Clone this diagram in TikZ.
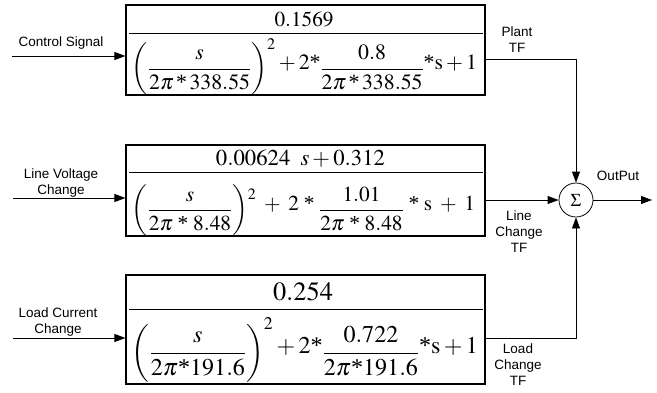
\documentclass[tikz,border=0pt]{standalone}
\usepackage{mathptmx}
\usepackage{fontspec}
\setmainfont{Liberation Serif}
\setsansfont{Liberation Sans}
\usepackage{graphicx}
\usetikzlibrary{arrows.meta, positioning}

\newcommand{\tfpart}[2]{\resizebox{#1}{!}{$\displaystyle #2$}}
\newcommand{\tmul}{\mbox{*}}
\newcommand{\tflow}[1]{\raisebox{-0.24em}{$\displaystyle #1$}}

\begin{document}
\begin{tikzpicture}[
  x=1pt, y=-1pt,
  tfbox/.style={draw, line width=1.2pt, minimum width=359pt, inner sep=0pt},
  part/.style={inner sep=0pt},
  bar/.style={line width=0.8pt},
  lbl/.style={font=\fontsize{13.5}{16}\selectfont\sffamily, align=center, inner sep=0pt},
  wire/.style={line width=0.8pt},
  arrow/.style={wire, -{Triangle[length=11pt, width=8pt]}}
]
  \useasboundingbox (0,0) rectangle (657,392);

  \node[tfbox, minimum height=90pt] (plant) at (305.5,50) {};
  \node[tfbox, minimum height=91pt] (line) at (305.5,190.5) {};
  \node[tfbox, minimum height=109pt] (load) at (305.5,329.5) {};

  \node[part, anchor=base] (plant num) at (304,26) {\tfpart{59pt}{0.1569}};
  \node[part, anchor=south, font=\fontsize{23.5}{28}\selectfont] (plant den) at (304.5,95.5)
    {\tfpart{345pt}{\tflow{\left(\rule[-22.4pt]{0pt}{56pt}\frac{s}{2\pi\mkern2mu\tmul\mkern2mu 338.55}\right)^{2}}+2\tmul\tflow{\frac{0.8}{2\pi\mkern2mu\tmul\mkern2mu 338.55}}\tmul\mathrm{s}+1}};
  \draw[bar] ([xshift=4pt]plant.west |- 0,33) -- ([xshift=-3pt]plant.east |- 0,33);

  \node[part, anchor=base] (line num) at (300.5,165) {\tfpart{169pt}{0.00624\;\;s+0.312}};
  \node[part, anchor=south, font=\fontsize{23}{28}\selectfont] (line den) at (303.5,236.5)
    {\tfpart{343pt}{\tflow{\left(\rule[-20.5pt]{0pt}{52pt}\frac{s}{2\pi\;\tmul\;8.48}\right)^{\raisebox{-9pt}{$\scriptstyle 2$}}}\;+\;2\;\tmul\;\tflow{\frac{1.01}{2\pi\;\tmul\;8.48}}\;\tmul\;\mathrm{s}\;+\;1}};
  \draw[bar] ([xshift=4pt]line.west |- 0,172.5) -- ([xshift=-3pt]line.east |- 0,172.5);

  \node[part, anchor=base] (load num) at (303,300) {\tfpart{60pt}{0.254}};
  \node[part, anchor=south, font=\fontsize{25}{30}\selectfont] (load den) at (305,384.5)
    {\tfpart{346pt}{\tflow{\left(\rule[-26pt]{0pt}{64pt}\frac{s}{2\pi\tmul 191.6}\right)^{2}}+2\tmul\tflow{\frac{0.722}{2\pi\tmul 191.6}}\tmul\mathrm{s}+1}};
  \draw[bar] ([xshift=4pt]load.west |- 0,309) -- ([xshift=-3pt]load.east |- 0,309);

  \node[draw, circle, wire, minimum size=34pt, inner sep=0pt, font=\fontsize{18}{18}\selectfont] (sum) at (576,200) {$\Sigma$};

  \coordinate (in plant) at (12,56);
  \coordinate (in line) at (13,198);
  \coordinate (in load) at (13,338);
  \coordinate (out) at (652,200);

  \draw[arrow] (in plant) -- (in plant -| plant.west);
  \draw[arrow] (in line) -- (in line -| line.west);
  \draw[arrow] (in load) -- (in load -| load.west);

  \draw[arrow] ([yshift=-9pt]plant.east) -| (sum.north);
  \draw[arrow] (line.east |- sum.west) -- (sum.west);
  \draw[arrow] ([yshift=-8.5pt]load.east) -| (sum.south);
  \draw[arrow] (sum.east) -- (out);

  \node[lbl, anchor=base] (control lbl) at (61,46) {Control Signal};
  \node[lbl, anchor=north] (voltage lbl) at (61,169) {Line Voltage\\Change};
  \node[lbl, anchor=north] (current lbl) at (58,308) {Load Current\\Change};
  \node[lbl, anchor=north] (plant lbl) at (517,27) {Plant\\TF};
  \node[lbl, anchor=north] (line lbl) at (519,211) {Line\\Change\\TF};
  \node[lbl, anchor=north] (load lbl) at (518,344) {Load\\Change\\TF};
  \node[lbl, anchor=base] (out lbl) at (618,180) {OutPut};
\end{tikzpicture}
\end{document}
